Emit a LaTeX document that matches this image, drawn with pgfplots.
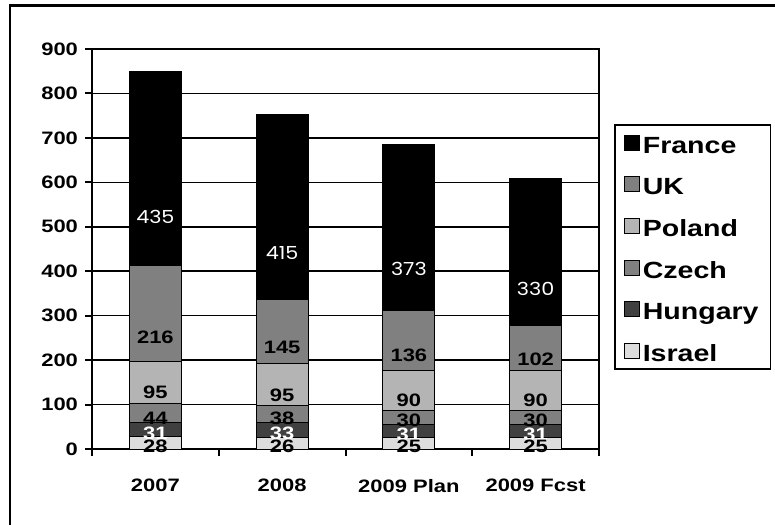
\documentclass[border=0pt]{standalone}
\usepackage{pgfplots}
\pgfplotsset{compat=1.18}
\usepackage{pgfplotstable}
\usepackage{fontspec}
\setmainfont{Liberation Sans}[FakeStretch=1.22]
\newfontfamily\thinfont{Poppins}[FakeStretch=1.15]

\definecolor{cIsrael}{HTML}{DDDDDD}
\definecolor{cHungary}{HTML}{404040}
\definecolor{cCzech}{HTML}{808080}
\definecolor{cPoland}{HTML}{B4B4B4}
\definecolor{cUK}{HTML}{808080}

% volumes per market, stacked bottom to top
\pgfplotstableread{
x Israel Hungary Czech Poland UK France
0 28 31 44 95 216 435
1 26 33 38 95 145 415
2 25 31 30 90 136 373
3 25 31 30 90 102 330
}\datatable

\begin{document}
\begin{tikzpicture}
\useasboundingbox (-46pt,-37.5pt) rectangle (341.5pt,224.5pt);
\draw[line width=1.4pt] (-41pt,-40pt) -- (-41pt,221.75pt) -- (345pt,221.75pt);
\begin{axis}[
  at={(0,0)}, anchor=south west,
  scale only axis, width=253.5pt, height=200pt,
  ybar stacked, bar width=26pt,
  xmin=-0.5, xmax=3.5, ymin=0, ymax=900,
  ytick={0,100,...,900},
  xtick={-0.5,0.5,1.5,2.5,3.5}, xticklabels={},
  extra x ticks={0,1,2,3},
  extra x tick labels={2007,2008,2009 Plan,2009 Fcst},
  extra x tick style={major tick length=0pt, grid=none,
    xticklabel style={yshift=-11.5pt}},
  xtick pos=bottom, ytick pos=left,
  tick align=outside, major tick length=3.5pt,
  tick style={black, line width=1pt},
  ymajorgrids, grid style={black, line width=0.75pt},
  axis line style={black, line width=1pt},
  /pgf/number format/assume math mode=true,
  tick label style={font=\bfseries\fontsize{9}{10}\selectfont},
  visualization depends on={rawy \as \rawy},
  point meta=rawy,
  nodes near coords,
  every node near coord/.append style={anchor=center,
    yshift=-0.055555pt*\rawy, inner sep=0pt,
    font=\bfseries\fontsize{9}{10}\selectfont},
  legend image code/.code={\draw[#1, draw=black, line width=0.5pt] (0pt,-3.75pt) rectangle (7.5pt,3.75pt);},
  reverse legend,
  legend cell align=left,
  legend style={at={(1.0296,0.8125)}, anchor=north west, draw=black,
    line width=0.8pt, inner xsep=4.5pt, inner ysep=1.25pt,
    font=\bfseries\fontsize{11.7}{12}\selectfont,
    row sep=5.3pt,
    nodes={text height=11.5pt, text depth=1pt, inner sep=1.5pt}},
]
\addplot[fill=cIsrael, draw=black, line width=0.5pt] table[x=x, y=Israel] {\datatable};
\addlegendentry{Israel}
\addplot[fill=cHungary, draw=black, line width=0.5pt,
  nodes near coords style={text=white}] table[x=x, y=Hungary] {\datatable};
\addlegendentry{Hungary}
\addplot[fill=cCzech, draw=black, line width=0.5pt] table[x=x, y=Czech] {\datatable};
\addlegendentry{Czech}
\addplot[fill=cPoland, draw=black, line width=0.5pt] table[x=x, y=Poland] {\datatable};
\addlegendentry{Poland}
\addplot[fill=cUK, draw=black, line width=0.5pt] table[x=x, y=UK] {\datatable};
\addlegendentry{UK}
\addplot[fill=black, draw=black, line width=0.5pt,
  nodes near coords style={text=white, font=\thinfont\fontsize{9}{10}\selectfont}] table[x=x, y=France] {\datatable};
\addlegendentry{France}
\end{axis}
\end{tikzpicture}
\end{document}
